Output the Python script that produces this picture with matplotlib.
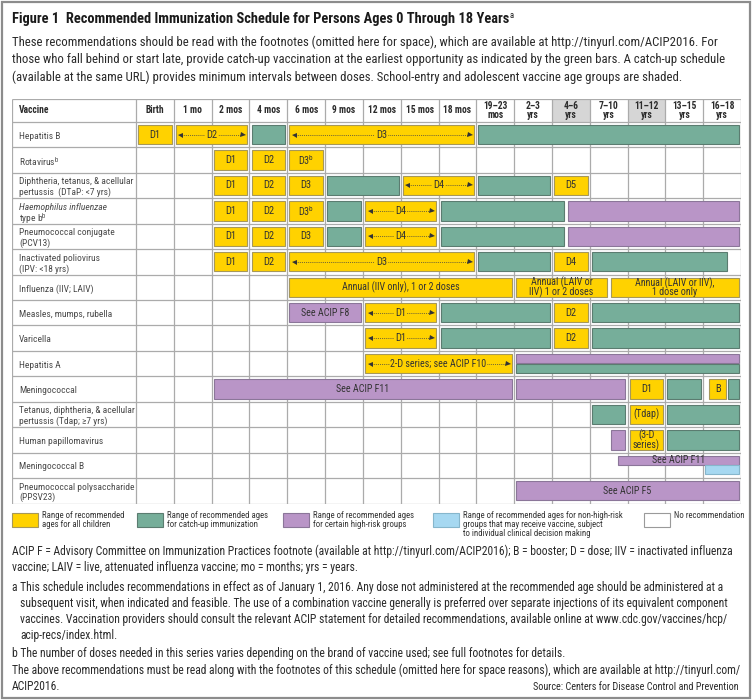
import matplotlib
matplotlib.use('Agg')
import matplotlib.pyplot as plt
from matplotlib.patches import Rectangle
from matplotlib import font_manager as fm


def pick_font():
    ents = fm.fontManager.ttflist
    nm = {f.name for f in ents}
    for n in ['Liberation Sans Narrow', 'Roboto Condensed', 'Open Sans Condensed',
              'Noto Sans Condensed', 'Arial Narrow']:
        if n in nm:
            return n, 'normal'
    for fam in ['Roboto', 'Open Sans', 'Noto Sans', 'DejaVu Sans', 'Lato', 'Inter']:
        if any(f.name == fam and str(f.stretch) in ('condensed', 'semi-condensed', 'extra-condensed')
               for f in ents):
            return fam, 'condensed'
    return 'Roboto', 'normal'


COND, STRETCH = pick_font()
plt.rcParams['font.family'] = [COND, 'DejaVu Sans']
plt.rcParams['font.stretch'] = STRETCH
plt.rcParams['mathtext.fontset'] = 'custom'
plt.rcParams['mathtext.rm'] = COND
plt.rcParams['mathtext.it'] = COND + ':italic'
plt.rcParams['mathtext.bf'] = COND + ':bold'

# ---------------- data ----------------
title = "Figure 1  Recommended Immunization Schedule for Persons Ages 0 Through 18 Years"
title_sup = "a"
intro_lines = [
    "These recommendations should be read with the footnotes (omitted here for space), which are available at http://tinyurl.com/ACIP2016. For",
    "those who fall behind or start late, provide catch-up vaccination at the earliest opportunity as indicated by the green bars. A catch-up schedule",
    "(available at the same URL) provides minimum intervals between doses. School-entry and adolescent vaccine age groups are shaded.",
]
ages = ["Birth", "1 mo", "2 mos", "4 mos", "6 mos", "9 mos", "12 mos", "15 mos", "18 mos",
        "19–23\nmos", "2–3\nyrs", "4–6\nyrs", "7–10\nyrs", "11–12\nyrs", "13–15\nyrs", "16–18\nyrs"]
shaded_ages = ["4–6\nyrs", "11–12\nyrs"]
vaccines = [
    "Hepatitis B",
    "Rotavirus$^{\\mathrm{b}}$",
    "Diphtheria, tetanus, & acellular\npertussis  (DTaP: <7 yrs)",
    "Haemophilus influenzae\ntype b$^{\\mathrm{b}}$",
    "Pneumococcal conjugate\n(PCV13)",
    "Inactivated poliovirus\n(IPV: <18 yrs)",
    "Influenza (IIV; LAIV)",
    "Measles, mumps, rubella",
    "Varicella",
    "Hepatitis A",
    "Meningococcal",
    "Tetanus, diphtheria, & acellular\npertussis (Tdap; ≥7 yrs)",
    "Human papillomavirus",
    "Meningococcal B",
    "Pneumococcal polysaccharide\n(PPSV23)",
]
italic_names = ["Haemophilus influenzae"]
# segments: (start column, end column, kind, label); "<...>" label = arrow range
hep_b = [(0, 1, "rec", "D1"), (1, 3, "rec", "<D2>"), (3, 4, "catch", ""),
         (4, 9, "rec", "<D3>"), (9, 16, "catch", "")]
rotavirus = [(2, 3, "rec", "D1"), (3, 4, "rec", "D2"), (4, 5, "rec", "D3$^{\\mathrm{b}}$")]
dtap = [(2, 3, "rec", "D1"), (3, 4, "rec", "D2"), (4, 5, "rec", "D3"), (5, 7, "catch", ""),
        (7, 9, "rec", "<D4>"), (9, 11, "catch", ""), (11, 12, "rec", "D5")]
hib = [(2, 3, "rec", "D1"), (3, 4, "rec", "D2"), (4, 5, "rec", "D3$^{\\mathrm{b}}$"),
       (5, 6, "catch", ""), (6, 8, "rec", "<D4>"), (8, 11.38, "catch", ""), (11.38, 16, "risk", "")]
pcv13 = [(2, 3, "rec", "D1"), (3, 4, "rec", "D2"), (4, 5, "rec", "D3"),
         (5, 6, "catch", ""), (6, 8, "rec", "<D4>"), (8, 11.38, "catch", ""), (11.38, 16, "risk", "")]
ipv = [(2, 3, "rec", "D1"), (3, 4, "rec", "D2"), (4, 9, "rec", "<D3>"), (9, 11, "catch", ""),
       (11, 12, "rec", "D4"), (12, 15.68, "catch", "")]
influenza = [(4, 10, "rec", "Annual (IIV only), 1 or 2 doses"),
             (10, 12.5, "rec", "Annual (LAIV or\nIIV) 1 or 2 doses"),
             (12.5, 16, "rec", "Annual (LAIV or IIV),\n1 dose only")]
mmr = [(4, 6, "risk", "See ACIP F8"), (6, 8, "rec", "<D1>"), (8, 11, "catch", ""),
       (11, 12, "rec", "D2"), (12, 16, "catch", "")]
varicella = [(6, 8, "rec", "<D1>"), (8, 11, "catch", ""), (11, 12, "rec", "D2"), (12, 16, "catch", "")]
hep_a = [(6, 10, "rec", "<2-D series; see ACIP F10>"), (10, 16, "risk_top", ""), (10, 16, "catch_bot", "")]
mening = [(2, 10, "risk", "See ACIP F11"), (10, 13, "risk", ""), (13, 14, "rec", "D1"),
          (14, 15, "catch", ""), (15.1, 15.67, "rec", "B"), (15.6, 16, "catch", "")]
tdap = [(12, 13, "catch", ""), (13, 14, "rec", "(Tdap)"), (14, 16, "catch", "")]
hpv = [(12.5, 13, "risk", ""), (13, 14, "rec", "(3-D\nseries)"), (14, 16, "catch", "")]
men_b = [(12.7, 16, "risk_top", "See ACIP F11"), (15, 16, "nonrisk_bot", "")]
ppsv23 = [(10, 16, "risk", "See ACIP F5")]
schedule = [hep_b, rotavirus, dtap, hib, pcv13, ipv, influenza, mmr, varicella,
            hep_a, mening, tdap, hpv, men_b, ppsv23]

legend_labels = ["Range of recommended\nages for all children",
                 "Range of recommended ages\nfor catch-up immunization",
                 "Range of recommended ages\nfor certain high-risk groups",
                 "Range of recommended ages for non-high-risk\ngroups that may receive vaccine, subject\nto individual clinical decision making",
                 "No recommendation"]
legend_kinds = ["rec", "catch", "risk", "nonrisk", "none"]

notes = [
    ("ACIP F = Advisory Committee on Immunization Practices footnote (available at http://tinyurl.com/ACIP2016); B = booster; D = dose; IIV = inactivated influenza", 0),
    ("vaccine; LAIV = live, attenuated influenza vaccine; mo = months; yrs = years.", 0),
    ("a This schedule includes recommendations in effect as of January 1, 2016. Any dose not administered at the recommended age should be administered at a", 0),
    ("subsequent visit, when indicated and feasible. The use of a combination vaccine generally is preferred over separate injections of its equivalent component", 1),
    ("vaccines. Vaccination providers should consult the relevant ACIP statement for detailed recommendations, available online at www.cdc.gov/vaccines/hcp/", 1),
    ("acip-recs/index.html.", 1),
    ("b The number of doses needed in this series varies depending on the brand of vaccine used; see full footnotes for details.", 0),
    ("The above recommendations must be read along with the footnotes of this schedule (omitted here for space reasons), which are available at http://tinyurl.com/", 0),
    ("ACIP2016.", 0),
]
note_y = [551, 568, 588, 604, 620, 636, 653, 670, 686]
source = "Source: Centers for Disease Control and Prevention"

# ---------------- styles ----------------
COLORS = {"rec": ("#FFD200", "#a6985a"), "catch": ("#76AE9A", "#5b7c70"),
          "risk": ("#B995C7", "#8b7699"), "nonrisk": ("#A6D8F1", "#86b6cc"),
          "none": ("#ffffff", "#9a9a9a")}
W, H = 753, 700
fig = plt.figure(figsize=(W / 100, H / 100), dpi=100)
renderer = fig.canvas.get_renderer()
fx = lambda x: x / W
fy = lambda y: 1 - y / H


def fit(s, target_px, weight="normal", style="normal", cap=None):
    t = fig.text(0, 0, s, fontsize=10, fontweight=weight, fontstyle=style)
    w = t.get_window_extent(renderer).width
    t.remove()
    size = 10 * target_px / w
    return min(size, cap) if cap else size


FS_TITLE = fit(title, 497, weight="bold", cap=11)
FS_INTRO = fit(intro_lines[0], 722, cap=9.2)
FS_NOTE = fit(notes[0][0], 722, cap=9.2)
FS_ROW = fit("Diphtheria, tetanus, & acellular", 113, cap=7.2)
FS_HEAD = fit("15 mos", 28, weight="bold", cap=7.6)
FS_BAR = fit("Annual (IIV only), 1 or 2 doses", 118, cap=7.4)
FS_LEG = fit("Range of recommended ages for non-high-risk", 160, cap=6.6)
FS_SRC = fit(source, 203, cap=7.4)

# outer frame
fig.add_artist(Rectangle((fx(2), fy(698)), fx(748), 696 / H, transform=fig.transFigure,
                         fill=False, edgecolor="#8c8c8c", lw=1.6))

tt = fig.text(fx(12), fy(19), title, fontsize=FS_TITLE, fontweight="bold", color="#1a1a1a", va="center")
tw = tt.get_window_extent(renderer).width
fig.text(fx(12) + (tw + 0.5) / W, fy(15), title_sup, fontsize=FS_TITLE * 0.6, color="#1a1a1a", va="center")
for i, line in enumerate(intro_lines):
    fig.text(fx(12), fy(42 + 17.5 * i), line, fontsize=FS_INTRO, color="#2a2a2a", va="center")

# table axes
X0 = -3.28
ax = fig.add_axes([fx(12), fy(503.5), (741 - 12) / W, (503.5 - 99) / H])
ax.set_xlim(X0, len(ages))
ax.set_ylim(len(vaccines), -0.9)
ax.axis("off")

for a in shaded_ages:
    c = ages.index(a)
    ax.add_patch(Rectangle((c, -0.9), 1, 0.9, facecolor="#d6d6d6", edgecolor="none", zorder=0))

grid_c = "#ababab"
ax.vlines([X0] + list(range(len(ages) + 1)), -0.9, len(vaccines), color=grid_c, lw=0.9, zorder=1)
ax.hlines([-0.9] + list(range(len(vaccines) + 1)), X0, len(ages), color=grid_c, lw=0.9, zorder=1)

ax.text(X0 + 0.19, -0.45, "Vaccine", fontsize=FS_HEAD, fontweight="bold", color="#2b2b2b", va="center")
for c, a in enumerate(ages):
    ax.text(c + 0.5, -0.45, a, fontsize=FS_HEAD, fontweight="bold", color="#2b2b2b",
            ha="center", va="center", linespacing=0.85)

for r, v in enumerate(vaccines):
    lines = v.split("\n")
    ys = [0.52] if len(lines) == 1 else [0.32, 0.73]
    for ln, yy in zip(lines, ys):
        ax.text(X0 + 0.19, r + yy, ln, fontsize=FS_ROW, color="#4a4a4a", va="center_baseline",
                fontstyle="italic" if ln in italic_names else "normal")

INSET = 0.055
PARTS = {"full": (0.12, 0.88), "top": (0.12, 0.47), "bot": (0.50, 0.86)}
for r, segs in enumerate(schedule):
    for x0, x1, kind, label in segs:
        part = "full"
        if kind.endswith("_top"):
            part, kind = "top", kind[:-4]
        elif kind.endswith("_bot"):
            part, kind = "bot", kind[:-4]
        y0, y1 = PARTS[part]
        fc, ec = COLORS[kind]
        ax.add_patch(Rectangle((x0 + INSET, r + y0), x1 - x0 - 2 * INSET, y1 - y0,
                               facecolor=fc, edgecolor=ec, lw=0.8, zorder=3))
        if not label:
            continue
        arrow = label.startswith("<")
        text = label.strip("<>")
        cx, cy = (x0 + x1) / 2, r + (y0 + y1) / 2
        fs = FS_BAR * (1.05 if len(text) < 5 else 1.0)
        if arrow:
            xl, xr = x0 + INSET + 0.12, x1 - INSET - 0.12
            ax.plot([xl, xr], [cy, cy], ls=(0, (1, 1.3)), color="#444444", lw=0.6, zorder=4)
            ax.plot([xl], [cy], marker="<", ms=3.6, color="#333333", mew=0, zorder=5)
            ax.plot([xr], [cy], marker=">", ms=3.6, color="#333333", mew=0, zorder=5)
            ax.text(cx, cy, text, fontsize=fs, color="#333333", ha="center", va="center", zorder=6,
                    bbox=dict(facecolor=fc, edgecolor="none", pad=0.6))
        else:
            ax.text(cx, cy, text, fontsize=fs, color="#333333", ha="center", va="center",
                    zorder=6, linespacing=0.85)

# legend
legend_x = [12, 137, 283, 433, 644]
for lx, lab, kind in zip(legend_x, legend_labels, legend_kinds):
    fc, ec = COLORS[kind]
    fig.add_artist(Rectangle((fx(lx), fy(527)), 26 / W, 14 / H, transform=fig.transFigure,
                             facecolor=fc, edgecolor=ec, lw=0.8))
    fig.text(fx(lx + 30), fy(511), lab, fontsize=FS_LEG, color="#333333", va="top", linespacing=1.0)

for (line, indent), y in zip(notes, note_y):
    fig.text(fx(12 + 8 * indent), fy(y), line, fontsize=FS_NOTE, color="#2a2a2a", va="center")
fig.text(fx(739), fy(687), source, fontsize=FS_SRC, color="#2a2a2a", ha="right", va="center")

fig.savefig("out.png", dpi=100)
